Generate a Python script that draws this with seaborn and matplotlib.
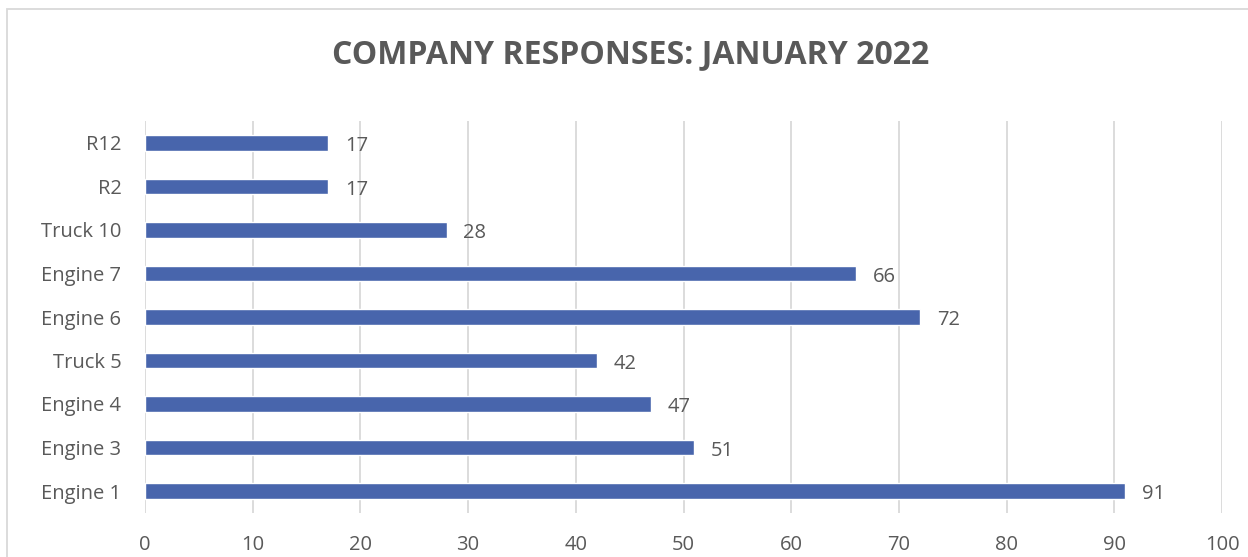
import matplotlib
matplotlib.use("Agg")
import matplotlib.pyplot as plt
import seaborn as sns
import pandas as pd
from matplotlib.patches import Rectangle

categories = ["R12", "R2", "Truck 10", "Engine 7", "Engine 6", "Truck 5", "Engine 4", "Engine 3", "Engine 1"]
values = [17, 17, 28, 66, 72, 42, 47, 51, 91]
xticks = list(range(0, 101, 10))
title = "COMPANY RESPONSES: JANUARY 2022"

df = pd.DataFrame({"company": categories, "responses": values})

sns.set_theme(style="white")
plt.rcParams["font.family"] = ["Open Sans", "DejaVu Sans"]
text_color = "#595959"
bar_color = "#4865AC"

fig = plt.figure(figsize=(12.48, 5.57), dpi=100)
ax = fig.add_axes([145/1248, 1-512.75/557, (1222-145)/1248, (512.75-121.25)/557])

sns.barplot(data=df, y="company", x="responses", orient="h", color=bar_color,
            width=0.35, ax=ax, saturation=1, order=categories)

ax.set_xlim(0, 100)
ax.set_ylim(8.5, -0.5)
ax.set_xticks(xticks)
ax.set_xticklabels([str(t) for t in xticks])
ax.xaxis.grid(True, color="#D9D9D9", linewidth=1.3)
ax.set_axisbelow(True)
for s in ax.spines.values():
    s.set_visible(False)
ax.tick_params(axis="x", length=0, pad=16, labelsize=14.5, labelcolor=text_color)
ax.tick_params(axis="y", length=0, pad=17, labelsize=14.5, labelcolor=text_color)
ax.set_xlabel("")
ax.set_ylabel("")

for i, v in enumerate(values):
    ax.annotate(str(v), xy=(v, i), xytext=(12, -2.5), textcoords="offset points",
                ha="left", va="center", fontsize=14.5, color=text_color)

fig.text(0.505, 1-55/557, title, ha="center", va="center", fontsize=23,
         fontweight="bold", color=text_color)

fig.patches.append(Rectangle((7/1248, -0.05), 1.2, 1-9/557+0.05, transform=fig.transFigure,
                             fill=False, edgecolor="#D9D9D9", linewidth=1.3))

fig.savefig("out.png", dpi=100)
